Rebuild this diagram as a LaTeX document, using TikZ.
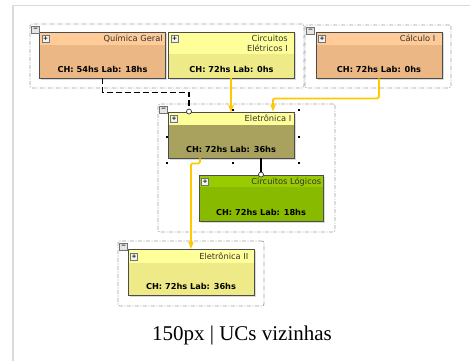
\documentclass[tikz,border=0pt]{standalone}
\usepackage{fontspec}
\setmainfont{Liberation Serif}
\newfontfamily\uifont{DejaVu Sans}
\usetikzlibrary{arrows.meta,shadows}

\definecolor{peachhead}{HTML}{FFCC99}
\definecolor{peachbody}{HTML}{EBB784}
\definecolor{lemonhead}{HTML}{FFFF99}
\definecolor{lemonbody}{HTML}{EEEA88}
\definecolor{olivebody}{HTML}{A9A25E}
\definecolor{limehead}{HTML}{99CC00}
\definecolor{limebody}{HTML}{88BB00}
\definecolor{flowyellow}{HTML}{FFC800}
\definecolor{groupgray}{HTML}{A0A0A0}
\definecolor{framegray}{HTML}{DADADA}

\begin{document}
\begin{tikzpicture}
[ x=1pt, y=-1pt
, uc/.style={rectangle, draw=black!70, line width=0.9pt, inner sep=0pt, minimum width=126pt, minimum height=46pt, drop shadow={shadow xshift=1.5pt, shadow yshift=-1.5pt, opacity=0.3}}
, head/.style 2 args={path picture={\fill[#1] (path picture bounding box.north west) rectangle ([shift={(0,#2)}]path picture bounding box.north east);}}
, title/.style={anchor=base east, inner sep=0pt, align=right, text=black!80, font=\uifont\fontsize{8.3}{10}\selectfont}
, ch/.style={anchor=base, inner sep=0pt, font=\uifont\bfseries\fontsize{8.2}{10}\selectfont}
, group/.style={rectangle, draw=groupgray, line width=0.8pt, dash pattern=on 4pt off 1.5pt on 1pt off 1.5pt, rounded corners=2pt, inner sep=0pt}
, plusbtn/.style={rectangle, draw=black!55, fill=black!5, minimum size=7pt, inner sep=0pt, font=\uifont\bfseries\fontsize{6}{6}\selectfont}
, minusbtn/.style={rectangle, draw=black!55, fill=black!10, minimum width=8pt, minimum height=7pt, inner sep=0pt, font=\uifont\bfseries\fontsize{6}{6}\selectfont}
, flow/.style={draw=flowyellow, line width=1.8pt, rounded corners=1.5pt, -{Triangle[width=5pt,length=7pt]}}
, dep/.style={draw=black, line width=1.5pt}
, port/.style={circle, draw=black!80, fill=white, line width=0.7pt, minimum size=5pt, inner sep=0pt}
, handle/.style={fill=black}
]
\useasboundingbox (0,0) rectangle (470,361);
\draw [framegray, line width=1.5pt] (13,361) -- (13,5.5) -- (470,5.5);

% groups
\node (grpA) [group, minimum width=274pt, minimum height=64pt] at (167,56) {};
\node (grpB) [group, minimum width=146pt, minimum height=63pt] at (378,56.5) {};
\node (grpC) [group, minimum width=177pt, minimum height=128pt] at (246.5,168) {};
\node (grpD) [group, minimum width=146pt, minimum height=65pt] at (191,273.5) {};

% UCs
\node (quimica) [uc, fill=peachbody, head={peachhead}{13}] at (102.5,55) {};
\node (circuitos) [uc, fill=lemonbody, head={lemonhead}{22}] at (231.5,55) {};
\node (calculo) [uc, fill=peachbody, head={peachhead}{13}] at (379,55) {};
\node (eletr1) [uc, fill=olivebody, head={lemonhead}{13}] at (231,135) {};
\node (logicos) [uc, minimum width=124pt, fill=limebody, head={limehead}{12}] at (261,198) {};
\node (eletr2) [uc, fill=lemonbody, head={lemonhead}{13}] at (191,272.5) {};

% titles
\node (quimica-t) [title] at ([shift={(-3,10)}]quimica.north east) {Química Geral};
\node (circuitos-t) [title] at ([shift={(-7,20)}]circuitos.north east) {Circuitos\\Elétricos I};
\node (calculo-t) [title] at ([shift={(-7,10)}]calculo.north east) {Cálculo I};
\node (eletr1-t) [title] at ([shift={(-3,10)}]eletr1.north east) {Eletrônica I};
\node (logicos-t) [title] at ([shift={(-2,10)}]logicos.north east) {Circuitos Lógicos};
\node (eletr2-t) [title] at ([shift={(-6,10)}]eletr2.north east) {Eletrônica II};

% workload
\node (quimica-ch) [ch] at ([shift={(0,-6)}]quimica.south) {CH: 54hs Lab: 18hs};
\node (circuitos-ch) [ch] at ([shift={(0,-6)}]circuitos.south) {CH: 72hs Lab: 0hs};
\node (calculo-ch) [ch] at ([shift={(0,-6)}]calculo.south) {CH: 72hs Lab: 0hs};
\node (eletr1-ch) [ch] at ([shift={(0,-6)}]eletr1.south) {CH: 72hs Lab: 36hs};
\node (logicos-ch) [ch] at ([shift={(0,-6)}]logicos.south) {CH: 72hs Lab: 18hs};
\node (eletr2-ch) [ch] at ([shift={(0,-6)}]eletr2.south) {CH: 72hs Lab: 36hs};

% ports
\node (qport) [port] at ([shift={(-42,0)}]eletr1.north) {};
\node (lport) [port] at (logicos.north) {};

% connectors
\draw [dep, dash pattern=on 6pt off 3pt] (quimica.south) -- ++(0,14) -| (qport);
\draw [dep] (lport |- eletr1.south) -- (lport);
\draw [flow] ([shift={(-0.5,0)}]circuitos.south) -- ++(0,34);
\draw [flow] (calculo.south) -- ++(0,20) -| ([shift={(42,0)}]eletr1.north);
\draw [flow] ([shift={(-31,0)}]eletr1.south) -- ++(0,5) -| (eletr2.north);

% buttons
\foreach \n in {quimica,circuitos,calculo,eletr1,logicos,eletr2}
  \node (\n-plus) [plusbtn] at ([shift={(6.5,7.5)}]\n.north west) {+};
\foreach \g in {grpA,grpB,grpC,grpD}
  \node (\g-minus) [minusbtn] at ([shift={(6,6)}]\g.north west) {−};

% selection handles
\node (sel) [rectangle, minimum width=132pt, minimum height=53pt, inner sep=0pt] at ([shift={(1.8,1.7)}]eletr1.center) {};
\foreach \a in {north,north east,east,south east,south,south west,west}
  \fill [handle] (sel.\a) +(-1,-1) rectangle +(1,1);

\node (caption) [anchor=base, font=\fontsize{21}{25}\selectfont] at (242,340) {150px | UCs vizinhas};
\end{tikzpicture}
\end{document}
